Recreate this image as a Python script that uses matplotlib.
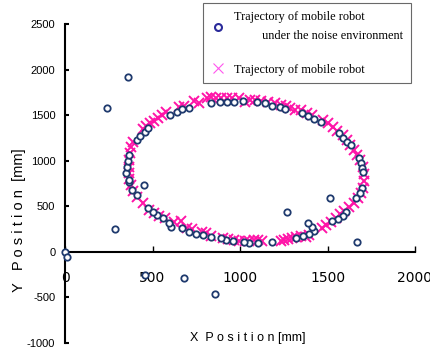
import matplotlib
matplotlib.use("Agg")
import matplotlib.pyplot as plt
from matplotlib.lines import Line2D

# Noisy trajectory (circles)
noisy_x = [349, 355, 362, 368, 412, 430, 457, 477, 599, 638, 670, 706, 834, 883, 925, 968,
           1019, 1099, 1142, 1184, 1227, 1259, 1353, 1387, 1425, 1463, 1563, 1586, 1614, 1633,
           1680, 1693, 1699, 1703, 1695, 1684, 1661, 1608, 1586, 1561, 1525, 1425, 1412, 1387,
           1393, 1359, 1321, 1184, 1104, 1053, 1025, 959, 921, 893, 834, 789, 746, 708, 670,
           608, 595, 562, 528, 500, 472, 409, 381, 368, 364,
           358, 238, 449, 287, 0, 10, 457, 680, 855, 1270, 1516, 1671]
noisy_y = [863, 935, 998, 1064, 1228, 1275, 1319, 1363, 1502, 1532, 1565, 1582, 1637, 1648, 1648, 1648,
           1656, 1648, 1630, 1604, 1587, 1568, 1521, 1495, 1458, 1429, 1302, 1253, 1209, 1173,
           1034, 973, 918, 880, 698, 644, 589, 442, 398, 362, 340, 230, 277, 315,
           197, 179, 157, 113, 102, 102, 113, 121, 132, 157, 168, 186, 197, 223, 260,
           277, 315, 370, 406, 442, 479, 625, 680, 771, 789,
           1922, 1576, 735, 252, 3, -52, -252, -282, -464, 435, 589, 113]

# Ideal trajectory (X markers)
true_x = [443, 413, 391, 378, 368, 364, 365, 368, 374, 379, 391, 443, 464, 487, 510, 532, 555, 578,
          651, 680, 736, 765, 810, 832, 861, 889, 923, 957, 997, 1031, 1059, 1087, 1121, 1161,
          1201, 1235, 1263, 1286, 1314, 1348, 1382, 1410, 1472, 1501, 1529, 1557, 1586, 1614,
          1631, 1654, 1671, 1688, 1705, 1710, 1710, 1705, 1693, 1676, 1654, 1625, 1597, 1574,
          1546, 1518, 1489, 1467, 1393, 1376, 1348, 1319, 1297, 1274, 1251, 1235, 1127, 1104,
          1082, 1053, 1031, 997, 968, 929, 900, 832, 804, 781, 725, 697, 663, 623, 572, 538, 510, 481]
true_y = [537, 603, 669, 735, 800, 866, 932, 1009, 1086, 1151, 1206, 1349, 1382, 1414, 1436, 1469, 1502, 1535,
          1590, 1601, 1656, 1634, 1689, 1700, 1689, 1689, 1689, 1689, 1689, 1645, 1667, 1667, 1656, 1645,
          1634, 1612, 1601, 1579, 1557, 1557, 1524, 1502, 1447, 1414, 1371, 1327, 1283, 1228,
          1173, 1118, 1064, 1009, 932, 855, 779, 702, 647, 592, 537, 493, 450, 417,
          373, 329, 296, 263, 186, 164, 175, 164, 154, 143, 132, 121, 121, 132,
          132, 121, 121, 121, 132, 143, 154, 175, 208, 219, 252, 263, 340, 329, 373, 395, 428, 461]

xticks = [0, 500, 1000, 1500, 2000]
yticks = [-1000, -500, 0, 500, 1000, 1500, 2000, 2500]
label_noisy = "Trajectory of mobile robot\n         under the noise environment"
label_true = "Trajectory of mobile robot"

W, H = 431, 351
fig = plt.figure(figsize=(W / 100, H / 100), dpi=100)
ax = fig.add_axes([65 / W, 8 / H, 350 / W, 319 / H])

pink = "#FF14A8"
navy = "#1F3A6E"

ax.plot(true_x, true_y, linestyle="none", marker="x", markersize=7.5, mew=1.4,
        color=pink, clip_on=False, zorder=2)
ax.plot(noisy_x, noisy_y, linestyle="none", marker="o", markersize=4.6, mew=1.3,
        mec=navy, mfc="white", clip_on=False, zorder=3)

ax.set_xlim(0, 2000)
ax.set_ylim(-1000, 2500)
ax.set_xticks(xticks)
ax.set_yticks(yticks)

tick_font = "Liberation Sans"
ax.set_xticklabels([str(v) for v in xticks], family=tick_font, fontsize=7.8)
ax.set_yticklabels([str(v) for v in yticks], family=tick_font, fontsize=8)

for s in ["top", "right"]:
    ax.spines[s].set_visible(False)
ax.spines["bottom"].set_position(("data", 0))
ax.spines["bottom"].set_linewidth(1.5)
ax.spines["left"].set_linewidth(1.5)
ax.tick_params(axis="x", direction="in", length=4, width=1, pad=14)
ax.tick_params(axis="y", direction="in", length=3, width=1.5, pad=7)

fig.text(248 / W, 1 - 338 / H, "X  P o s i t i o n [mm]", family=tick_font,
         fontsize=9, ha="center", va="center")
fig.text(19 / W, 1 - 220 / H, "Y   P o s i t i o n  [mm]", family=tick_font,
         fontsize=10.5, ha="center", va="center", rotation=90)

handles = [Line2D([], [], linestyle="none", marker="o", markersize=5, mew=1.5,
                  mec="#2A2A9A", mfc="white"),
           Line2D([], [], linestyle="none", marker="x", markersize=7, mew=0.8, color="#FF55EE")]
leg = ax.legend(handles, [label_noisy, label_true], loc="upper left",
                bbox_to_anchor=(203 / W, 1 - 3 / H), bbox_transform=fig.transFigure,
                borderaxespad=0, fancybox=False, frameon=True, edgecolor="#444444",
                prop={"family": "Liberation Serif", "size": 8.8},
                handletextpad=0.7, handlelength=1.2, labelspacing=1.75, borderpad=0.65)
leg.get_frame().set_linewidth(0.8)
for t in leg.get_texts():
    t.set_linespacing(1.8)

fig.savefig("out.png", dpi=100)
